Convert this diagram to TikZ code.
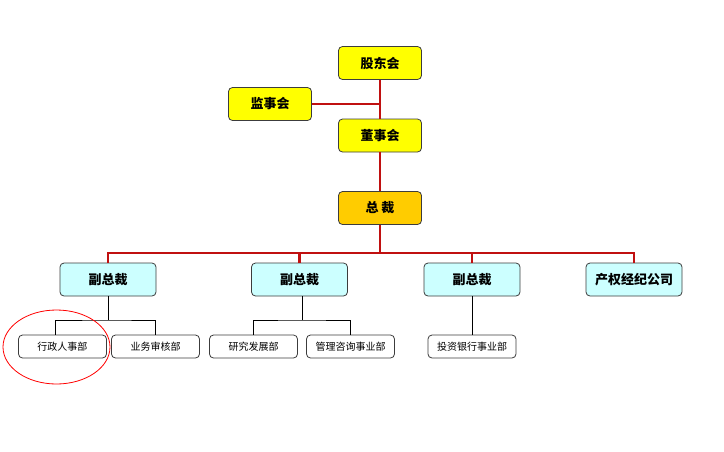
\documentclass[tikz,border=0pt]{standalone}
\usepackage{fontspec}
\setmainfont{Noto Sans CJK SC}
\usetikzlibrary{positioning}
\definecolor{BoardYellow}{RGB}{255,255,0}
\definecolor{ChiefOrange}{RGB}{255,204,0}
\definecolor{SoftCyan}{RGB}{204,255,255}
\definecolor{LineRed}{RGB}{192,16,16}
\definecolor{EdgeGray}{RGB}{60,60,60}
\tikzset{
  topbox/.style={draw=EdgeGray,fill=BoardYellow,rounded corners=4pt,thick,
    minimum width=83pt,minimum height=33pt,font=\fontsize{13}{15}\selectfont\bfseries},
  chiefbox/.style={topbox,fill=ChiefOrange},
  vpbox/.style={topbox,fill=SoftCyan,minimum width=96pt},
  deptbox/.style={draw=EdgeGray,fill=white,rounded corners=4pt,thick,
    minimum width=88pt,minimum height=23pt,font=\fontsize{10}{12}\selectfont},
  redline/.style={LineRed,line width=2.6pt},
  thinline/.style={black,line width=0.8pt}
}

\begin{document}
\begin{tikzpicture}[x=1pt,y=-1pt]
  \useasboundingbox (0,0) rectangle (724,451);
  % board level
  \node[topbox] (gd) at (380,63) {股东会};
  \node[topbox] (js) at (270,104) {监事会};
  \node[topbox] (ds) at (380,135.5) {董事会};
  \node[chiefbox] (zc) at (380,208) {总\ 裁};
  % second level
  \node[vpbox] (vp1) at (108,279.5) {副总裁};
  \node[vpbox] (vp2) at (299.5,279.5) {副总裁};
  \node[vpbox] (vp3) at (472,279.5) {副总裁};
  \node[vpbox] (cq) at (634,279.5) {产权经纪公司};
  % departments
  \node[deptbox] (d1) at (62.5,346.5) {行政人事部};
  \node[deptbox] (d2) at (155.5,346.5) {业务审核部};
  \node[deptbox] (d3) at (253.5,346.5) {研究发展部};
  \node[deptbox] (d4) at (350.5,346.5) {管理咨询事业部};
  \node[deptbox] (d5) at (472,346.5) {投资银行事业部};
  \coordinate (bus) at (380,253);
  \coordinate (s1) at (108,320);
  \coordinate (s2) at (302,320);
  % red connectors
  \draw[redline] (gd.south) -- (ds.north);
  \draw[redline] (js.east) -- (js.east -| gd.south);
  \draw[redline] (ds.south) -- (zc.north);
  \draw[redline] (zc.south) -- (bus);
  \draw[redline,line join=miter] (vp1.north) -- (vp1.north |- bus)
    -- (cq.north |- bus) -- (cq.north);
  \foreach \n in {vp2,vp3}
    \draw[redline] (\n.north) -- (\n.north |- bus);
  % black connectors
  \draw[thinline] (vp1.south) -- (s1);
  \draw[thinline] ([xshift=-7pt]d1.north) |- (s1) -| (d2.north);
  \draw[thinline] (vp2.south -| s2) -- (s2);
  \draw[thinline] (d3.north) |- (s2) -| (d4.north);
  \draw[thinline] (vp3.south) -- (d5.north);
  % red ring
  \draw[red,line width=0.8pt] (56.5,347) ellipse [x radius=53.5,y radius=37];
\end{tikzpicture}
\end{document}
